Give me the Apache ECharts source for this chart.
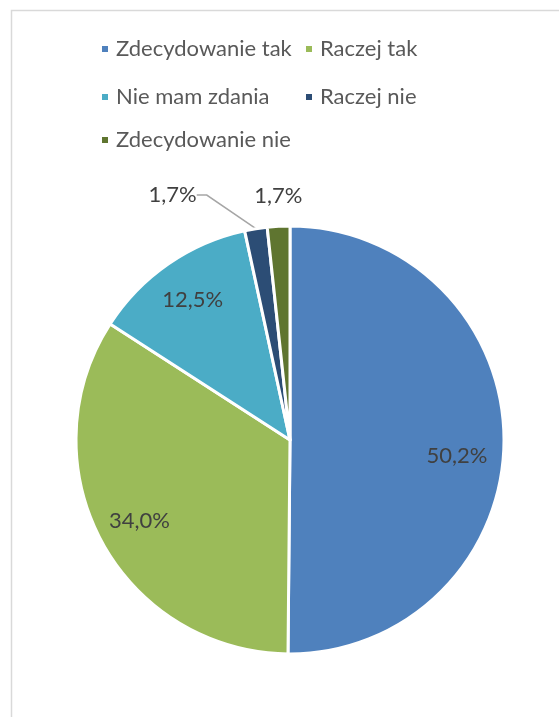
<!DOCTYPE html>
<html>
<head>
<meta charset="utf-8">
<script src="https://cdn.jsdelivr.net/npm/echarts@6/dist/echarts.min.js"></script>
<style>
html,body{margin:0;padding:0;background:#fff;}
#chart{width:559px;height:717px;}
</style>
</head>
<body>
<div id="chart"></div>
<script>
const categories = ['Zdecydowanie tak', 'Raczej tak', 'Nie mam zdania', 'Raczej nie', 'Zdecydowanie nie'];
const values = [50.2, 34.0, 12.5, 1.7, 1.7];
const colors = ['#4F81BD', '#9BBB59', '#4BACC6', '#2C4D75', '#5F7530'];

const FONT = 'Lato';
const chart = echarts.init(document.getElementById('chart'), null, {renderer: 'canvas'});

const fmt = v => v.toFixed(1).replace('.', ',') + '%';

const legendPos = [
  {left: 95, top: 32}, {left: 299, top: 32},
  {left: 95, top: 80}, {left: 299, top: 80},
  {left: 95, top: 123}
];
const legends = categories.map((c, i) => ({
  data: [c],
  left: legendPos[i].left,
  top: legendPos[i].top,
  icon: 'rect',
  itemWidth: 8,
  itemHeight: 8,
  selectedMode: false,
  textStyle: {fontFamily: FONT, fontSize: 22, color: '#595959', lineHeight: 24, padding: [0, 0, 0, 2]}
}));

const pieData = categories.map((c, i) => ({name: c, value: values[i], itemStyle: {color: colors[i]}}));

const labelData = categories.map((c, i) => {
  const d = {name: c, value: values[i]};
  if (i === 3) {
    d.label = {position: 'outside'};
    d.labelLine = {show: true, length: 26, length2: 10};
  } else if (i === 4) {
    d.label = {position: 'outside'};
    d.labelLine = {show: false, length: 26, length2: 0};
  }
  return d;
});

chart.setOption({
  animation: false,
  backgroundColor: '#fff',
  legend: legends,
  graphic: [{
    type: 'rect',
    shape: {x: 11.5, y: 10.5, width: 600, height: 760},
    style: {fill: 'none', stroke: '#D9D9D9', lineWidth: 1.5},
    silent: true
  }],
  series: [{
    type: 'pie',
    center: [290, 440],
    radius: 214,
    startAngle: 90,
    clockwise: true,
    avoidLabelOverlap: false,
    label: {show: false},
    labelLine: {show: false},
    emphasis: {disabled: true},
    itemStyle: {borderColor: '#fff', borderWidth: 3},
    data: pieData
  }, {
    type: 'pie',
    center: [290, 440],
    radius: [122, 214],
    startAngle: 90,
    clockwise: true,
    silent: true,
    avoidLabelOverlap: false,
    emphasis: {disabled: true},
    itemStyle: {color: 'rgba(0,0,0,0)', borderWidth: 0},
    label: {
      show: true,
      position: 'inside',
      formatter: p => fmt(p.value),
      fontFamily: FONT,
      fontSize: 22,
      color: '#404040'
    },
    labelLine: {lineStyle: {color: '#A6A6A6', width: 1.5}},
    labelLayout: function (p) {
      if (p.dataIndex === 0) return {dx: -4, dy: 15};
      if (p.dataIndex === 4) return {align: 'center', dx: 6, dy: -4};
      if (p.dataIndex === 3) return {
        x: p.labelRect.x - 40,
        y: p.labelRect.y - 8,
        align: 'left',
        verticalAlign: 'top'
      };
      return {};
    },
    data: labelData
  }]
});
</script>
</body>
</html>
